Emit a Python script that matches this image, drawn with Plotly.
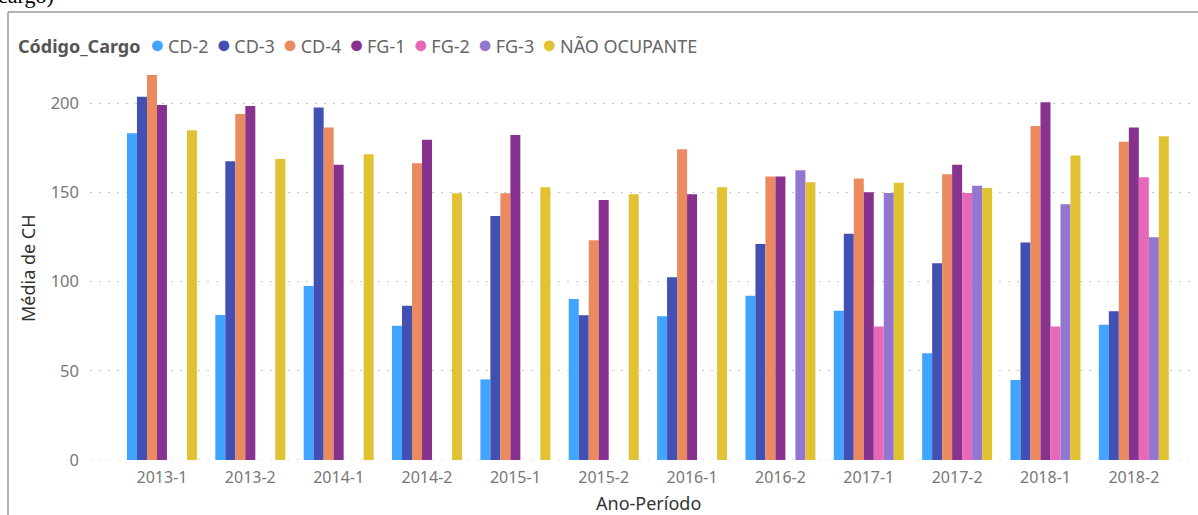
import plotly.graph_objects as go

categories = ["2013-1", "2013-2", "2014-1", "2014-2", "2015-1", "2015-2",
              "2016-1", "2016-2", "2017-1", "2017-2", "2018-1", "2018-2"]

cd2 = [183.2, 81.3, 97.6, 75.3, 45.2, 90.3, 80.6, 92.1, 83.7, 59.8, 44.9, 75.9]
cd3 = [203.7, 167.5, 197.6, 86.5, 136.8, 81.1, 102.4, 121.1, 126.9, 110.3, 121.9, 83.4]
cd4 = [215.9, 194.0, 186.5, 166.4, 149.5, 123.2, 174.2, 158.9, 157.9, 160.2, 187.3, 178.5]
fg1 = [199.0, 198.5, 165.6, 179.6, 182.2, 145.8, 149.0, 158.9, 150.1, 165.6, 200.6, 186.4]
fg2 = [None, None, None, None, None, None, None, None, 74.8, 149.7, 74.8, 158.5]
fg3 = [None, None, None, None, None, None, None, 162.4, 149.7, 153.8, 143.4, 124.9]
nao = [184.9, 168.8, 171.4, 149.5, 152.9, 149.0, 152.9, 155.7, 155.5, 152.5, 170.8, 181.5]

series_names = ["CD-2", "CD-3", "CD-4", "FG-1", "FG-2", "FG-3", "NÃO OCUPANTE"]
series_values = [cd2, cd3, cd4, fg1, fg2, fg3, nao]
colors = ["#41A4FF", "#4150B2", "#EB8A5F", "#88328F", "#E668B8", "#9276D0", "#E0C232"]

yticks = [0, 50, 100, 150, 200]

W, H = 1198, 515
ML, MR, MT, MB = 90, 3, 70, 55
PW = W - ML - MR
PH = H - MT - MB
Y_PER_PX = 1 / 1.7835


def px_x(px):
    return (px - ML) / PW


def px_y(py):
    return (H - MB - py) / PH


FONT = "Noto Sans"
GRID = dict(color="#C8C8C8", width=1.2, dash="2px,7px")

fig = go.Figure()
for name, vals, col in zip(series_names, series_values, colors):
    fig.add_trace(go.Bar(
        name=name, x=categories, y=vals,
        marker=dict(color=col, line=dict(width=0)),
        showlegend=False,
    ))

# custom compact legend (Power BI style)
sp = "\u00a0"
thin = "\u202f"
items = []
for name, col in zip(series_names, colors):
    items.append(f"<span style='color:{col};font-size:25px'>●</span>{thin}{name}")
legend_text = ("<span style='color:#555555'><b>Código_Cargo</b></span>" + sp * 2
               + (sp + thin).join(items))

annotations = [
    dict(text=legend_text, xref="paper", yref="paper", x=px_x(16), y=px_y(43),
         xanchor="left", yanchor="middle", showarrow=False,
         font=dict(family=FONT, size=18, color="#666666")),
    dict(text="Média de CH", xref="paper", yref="paper", x=px_x(28), y=px_y(268),
         xanchor="center", yanchor="middle", textangle=-90, showarrow=False,
         font=dict(family=FONT, size=18, color="#333333")),
    dict(text="Ano-Período", xref="paper", yref="paper", x=px_x(648), y=px_y(503),
         xanchor="center", yanchor="middle", showarrow=False,
         font=dict(family=FONT, size=18, color="#333333")),
    dict(text="cargo)", xref="paper", yref="paper", x=px_x(-4), y=px_y(10),
         xanchor="left", yanchor="bottom", showarrow=False,
         font=dict(family="Liberation Serif", size=22, color="#000000")),
]

shapes = [
    dict(type="line", xref="paper", yref="paper", x0=px_x(8), x1=px_x(1205),
         y0=px_y(12), y1=px_y(12), line=dict(color="#9A9A9A", width=1.5)),
    dict(type="line", xref="paper", yref="paper", x0=px_x(8), x1=px_x(8),
         y0=px_y(12), y1=px_y(520), line=dict(color="#9A9A9A", width=1.5)),
    # dotted baseline grid at y = 0 (same style as other gridlines)
    dict(type="line", xref="paper", yref="y", x0=0, x1=1, y0=0, y1=0,
         line=GRID, layer="below"),
]

cat_px = 88.4
fig.update_layout(
    width=W, height=H,
    margin=dict(l=ML, r=MR, t=MT, b=MB, pad=0),
    paper_bgcolor="white", plot_bgcolor="white",
    barmode="group", bargap=0.208, bargroupgap=0,
    font=dict(family=FONT),
    annotations=annotations, shapes=shapes,
    xaxis=dict(
        type="category", categoryorder="array", categoryarray=categories,
        range=[-0.5 - 27.8 / cat_px, 11.5 + 17 / cat_px],
        showgrid=False, zeroline=False, showline=False, ticks="",
        tickfont=dict(family=FONT, size=16, color="#777777"),
        ticklabelstandoff=6,
    ),
    yaxis=dict(
        range=[0, PH * Y_PER_PX], tickvals=yticks,
        ticktext=[str(v) for v in yticks],
        showgrid=True, gridcolor=GRID["color"], griddash=GRID["dash"],
        gridwidth=GRID["width"],
        zeroline=False, showline=False, ticks="",
        tickfont=dict(family=FONT, size=16.5, color="#777777"),
        ticklabelstandoff=10,
    ),
)

fig.write_html("out.html", config={"displayModeBar": False},
               post_script="document.body.style.margin='0';document.body.style.overflow='hidden';")
